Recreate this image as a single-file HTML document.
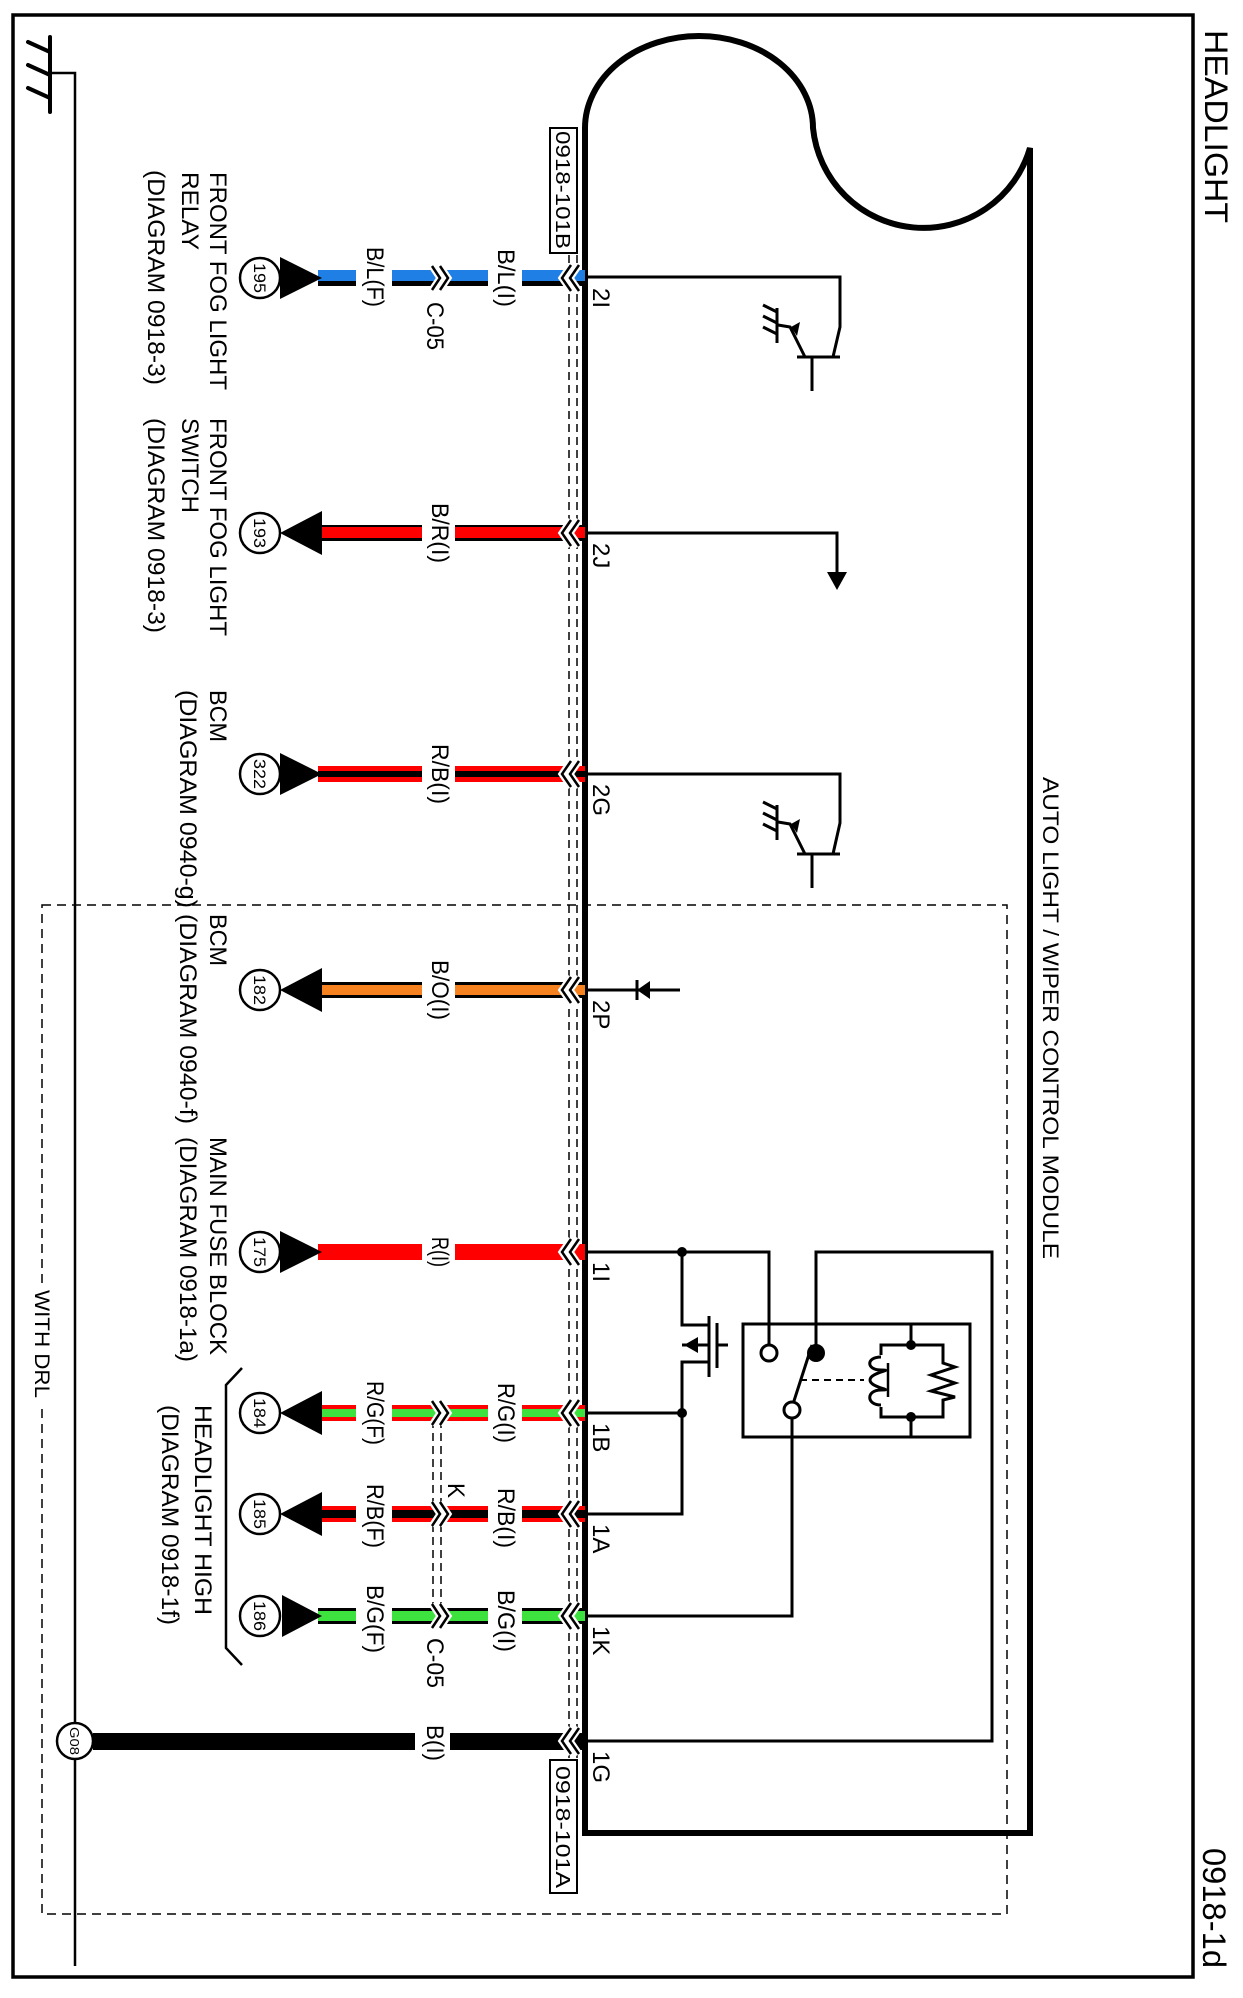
<!DOCTYPE html>
<html><head><meta charset="utf-8"><style>html,body{margin:0;padding:0;background:#fff}svg{display:block}text{font-family:"Liberation Sans",Arial,sans-serif;fill:#000}</style></head>
<body>
<svg width="1243" height="1998" viewBox="0 0 1243 1998" xmlns="http://www.w3.org/2000/svg">
<!-- border -->
<rect x="13" y="15" width="1180" height="1962" fill="none" stroke="#000" stroke-width="3.5"/>
<text transform="translate(1205,30) rotate(90)" font-size="32" textLength="193" lengthAdjust="spacingAndGlyphs">HEADLIGHT</text>
<text transform="translate(1203,1848) rotate(90)" font-size="32" textLength="120" lengthAdjust="spacingAndGlyphs">0918-1d</text>
<!-- ground top-left -->
<g stroke="#000" stroke-width="4" stroke-linecap="round" fill="none">
<line x1="50" y1="37" x2="50" y2="112"/>
<line x1="28" y1="42" x2="50" y2="52"/>
<line x1="28" y1="65" x2="50" y2="75"/>
<line x1="28" y1="88" x2="50" y2="98"/>
</g>
<polyline points="50,73 75,73 75,1966" fill="none" stroke="#000" stroke-width="2.5"/>
<!-- WITH DRL dashed -->
<rect x="42" y="905" width="965" height="1009" fill="none" stroke="#000" stroke-width="1.5" stroke-dasharray="9,6"/>
<rect x="30" y="1285" width="26" height="118" fill="#fff"/>
<text transform="translate(35,1290) rotate(90)" font-size="21" textLength="108" lengthAdjust="spacingAndGlyphs">WITH DRL</text>
<!-- module outline -->
<path d="M585,1833 L585,128 A114,92 0 0 1 813,128 A111,111 0 0 0 1030,148 L1030,1833 Z" fill="none" stroke="#000" stroke-width="6" stroke-linejoin="miter"/>
<text transform="translate(1043,777) rotate(90)" font-size="22" textLength="482" lengthAdjust="spacingAndGlyphs">AUTO LIGHT / WIPER CONTROL MODULE</text>

<!-- connector dashed double lines -->
<g stroke="#000" stroke-width="1.5" stroke-dasharray="8,5">
<line x1="569" y1="255" x2="569" y2="1760"/>
<line x1="577" y1="255" x2="577" y2="1760"/>
<line x1="433" y1="1420" x2="433" y2="1612"/>
<line x1="441" y1="1420" x2="441" y2="1612"/>
</g>
<!-- connector boxes -->
<rect x="550" y="128" width="27" height="125" fill="#fff" stroke="#000" stroke-width="2"/>
<text transform="translate(556,131) rotate(90)" font-size="20" textLength="118" lengthAdjust="spacingAndGlyphs">0918-101B</text>
<rect x="550" y="1760" width="27" height="133" fill="#fff" stroke="#000" stroke-width="2"/>
<text transform="translate(556,1766) rotate(90)" font-size="20" textLength="122" lengthAdjust="spacingAndGlyphs">0918-101A</text>

<!-- wires: base -->
<g>
<!-- 2I B/L -->
<rect x="318" y="270" width="267" height="16" fill="#000"/><rect x="318" y="270" width="267" height="11" fill="#1f7fe5"/>
<!-- 2J B/R -->
<rect x="318" y="525" width="267" height="16" fill="#000"/><rect x="318" y="527" width="267" height="11" fill="#f00"/>
<!-- 2G R/B -->
<rect x="318" y="766" width="267" height="16" fill="#f00"/><rect x="318" y="771" width="267" height="6" fill="#000"/>
<!-- 2P B/O -->
<rect x="318" y="982" width="267" height="16" fill="#000"/><rect x="318" y="985" width="267" height="10" fill="#f5821f"/>
<!-- 1I R -->
<rect x="318" y="1244" width="267" height="16" fill="#f00"/>
<!-- 1B R/G -->
<rect x="318" y="1405" width="267" height="16" fill="#f00"/><rect x="318" y="1409" width="267" height="8" fill="#3ee23e"/>
<!-- 1A R/B -->
<rect x="318" y="1506" width="267" height="16" fill="#f00"/><rect x="318" y="1510" width="267" height="8" fill="#000"/>
<!-- 1K B/G -->
<rect x="318" y="1608" width="267" height="16" fill="#000"/><rect x="318" y="1611" width="267" height="10" fill="#3ee23e"/>
<!-- 1G B -->
<rect x="93" y="1733" width="492" height="17" fill="#000"/>
</g>
<!-- gaps -->
<g fill="#fff">
<rect x="356" y="265" width="36" height="26"/><rect x="488" y="265" width="34" height="26"/>
<rect x="422" y="520" width="33" height="26"/>
<rect x="422" y="761" width="33" height="26"/>
<rect x="422" y="977" width="33" height="26"/>
<rect x="422" y="1239" width="33" height="26"/>
<rect x="356" y="1400" width="36" height="26"/><rect x="488" y="1400" width="34" height="26"/>
<rect x="356" y="1501" width="36" height="26"/><rect x="488" y="1501" width="34" height="26"/>
<rect x="356" y="1603" width="36" height="26"/><rect x="488" y="1603" width="34" height="26"/>
<rect x="415" y="1728" width="35" height="27"/>
</g>
<!-- C-05 chevrons >> -->
<g fill="none" stroke-linejoin="miter">
<g stroke="#fff" stroke-width="7">
<path d="M432,266 L440,278 L432,290 M440,266 L448,278 L440,290"/>
<path d="M432,1401 L440,1413 L432,1425 M440,1401 L448,1413 L440,1425"/>
<path d="M432,1502 L440,1514 L432,1526 M440,1502 L448,1514 L440,1526"/>
<path d="M432,1604 L440,1616 L432,1628 M440,1604 L448,1616 L440,1628"/>
</g>
<g stroke="#000" stroke-width="2.5">
<path d="M432,266 L440,278 L432,290 M440,266 L448,278 L440,290"/>
<path d="M432,1401 L440,1413 L432,1425 M440,1401 L448,1413 L440,1425"/>
<path d="M432,1502 L440,1514 L432,1526 M440,1502 L448,1514 L440,1526"/>
<path d="M432,1604 L440,1616 L432,1628 M440,1604 L448,1616 L440,1628"/>
</g>
</g>
<!-- pin chevrons << -->
<g fill="none">
<g stroke="#fff" stroke-width="7">
<path d="M571,265 L562,278 L571,291 M579,265 L570,278 L579,291"/>
<path d="M571,520 L562,533 L571,546 M579,520 L570,533 L579,546"/>
<path d="M571,761 L562,774 L571,787 M579,761 L570,774 L579,787"/>
<path d="M571,977 L562,990 L571,1003 M579,977 L570,990 L579,1003"/>
<path d="M571,1239 L562,1252 L571,1265 M579,1239 L570,1252 L579,1265"/>
<path d="M571,1400 L562,1413 L571,1426 M579,1400 L570,1413 L579,1426"/>
<path d="M571,1501 L562,1514 L571,1527 M579,1501 L570,1514 L579,1527"/>
<path d="M571,1603 L562,1616 L571,1629 M579,1603 L570,1616 L579,1629"/>
<path d="M571,1728 L562,1741 L571,1754 M579,1728 L570,1741 L579,1754"/>
</g>
<g stroke="#000" stroke-width="2.5">
<path d="M571,265 L562,278 L571,291 M579,265 L570,278 L579,291"/>
<path d="M571,520 L562,533 L571,546 M579,520 L570,533 L579,546"/>
<path d="M571,761 L562,774 L571,787 M579,761 L570,774 L579,787"/>
<path d="M571,977 L562,990 L571,1003 M579,977 L570,990 L579,1003"/>
<path d="M571,1239 L562,1252 L571,1265 M579,1239 L570,1252 L579,1265"/>
<path d="M571,1400 L562,1413 L571,1426 M579,1400 L570,1413 L579,1426"/>
<path d="M571,1501 L562,1514 L571,1527 M579,1501 L570,1514 L579,1527"/>
<path d="M571,1603 L562,1616 L571,1629 M579,1603 L570,1616 L579,1629"/>
<path d="M571,1728 L562,1741 L571,1754 M579,1728 L570,1741 L579,1754"/>
</g>
</g>

<!-- arrows -->
<g fill="#000">
<polygon points="280,257 280,299 322,278"/>
<polygon points="280,533 322,511 322,555"/>
<polygon points="280,753 280,795 322,774"/>
<polygon points="280,990 322,968 322,1012"/>
<polygon points="280,1231 280,1273 322,1252"/>
<polygon points="280,1413 322,1391 322,1435"/>
<polygon points="280,1514 322,1492 322,1536"/>
<polygon points="282,1595 282,1637 322,1616"/>
</g>
<!-- circles -->
<g fill="#fff" stroke="#000" stroke-width="2.5">
<circle cx="260" cy="278" r="20"/><circle cx="260" cy="533" r="20"/><circle cx="260" cy="774" r="20"/><circle cx="260" cy="990" r="20"/>
<circle cx="260" cy="1252" r="20"/><circle cx="260" cy="1413" r="20"/><circle cx="260" cy="1514" r="20"/><circle cx="260" cy="1616" r="20"/>
<circle cx="75" cy="1741" r="18"/>
</g>
<g font-size="17">
<text transform="translate(254,263) rotate(90)" textLength="30" lengthAdjust="spacingAndGlyphs">195</text>
<text transform="translate(254,518) rotate(90)" textLength="30" lengthAdjust="spacingAndGlyphs">193</text>
<text transform="translate(254,759) rotate(90)" textLength="30" lengthAdjust="spacingAndGlyphs">322</text>
<text transform="translate(254,975) rotate(90)" textLength="30" lengthAdjust="spacingAndGlyphs">182</text>
<text transform="translate(254,1237) rotate(90)" textLength="30" lengthAdjust="spacingAndGlyphs">175</text>
<text transform="translate(254,1398) rotate(90)" textLength="30" lengthAdjust="spacingAndGlyphs">184</text>
<text transform="translate(254,1499) rotate(90)" textLength="30" lengthAdjust="spacingAndGlyphs">185</text>
<text transform="translate(254,1601) rotate(90)" textLength="30" lengthAdjust="spacingAndGlyphs">186</text>
<text transform="translate(70,1727) rotate(90)" font-size="13" textLength="28" lengthAdjust="spacingAndGlyphs">G08</text>
</g>

<!-- wire labels -->
<g font-size="24">
<text transform="translate(367,247) rotate(90)" textLength="60" lengthAdjust="spacingAndGlyphs">B/L(F)</text>
<text transform="translate(427,302) rotate(90)" textLength="48" lengthAdjust="spacingAndGlyphs">C-05</text>
<text transform="translate(498,249) rotate(90)" textLength="58" lengthAdjust="spacingAndGlyphs">B/L(I)</text>
<text transform="translate(432,503) rotate(90)" textLength="60" lengthAdjust="spacingAndGlyphs">B/R(I)</text>
<text transform="translate(432,744) rotate(90)" textLength="60" lengthAdjust="spacingAndGlyphs">R/B(I)</text>
<text transform="translate(432,960) rotate(90)" textLength="60" lengthAdjust="spacingAndGlyphs">B/O(I)</text>
<text transform="translate(432,1237) rotate(90)" textLength="30" lengthAdjust="spacingAndGlyphs">R(I)</text>
<text transform="translate(367,1381) rotate(90)" textLength="64" lengthAdjust="spacingAndGlyphs">R/G(F)</text>
<text transform="translate(498,1383) rotate(90)" textLength="60" lengthAdjust="spacingAndGlyphs">R/G(I)</text>
<text transform="translate(448,1483) rotate(90)" textLength="15" lengthAdjust="spacingAndGlyphs">K</text>
<text transform="translate(367,1484) rotate(90)" textLength="64" lengthAdjust="spacingAndGlyphs">R/B(F)</text>
<text transform="translate(498,1488) rotate(90)" textLength="60" lengthAdjust="spacingAndGlyphs">R/B(I)</text>
<text transform="translate(367,1585) rotate(90)" textLength="68" lengthAdjust="spacingAndGlyphs">B/G(F)</text>
<text transform="translate(498,1590) rotate(90)" textLength="62" lengthAdjust="spacingAndGlyphs">B/G(I)</text>
<text transform="translate(427,1638) rotate(90)" textLength="50" lengthAdjust="spacingAndGlyphs">C-05</text>
<text transform="translate(427,1725) rotate(90)" textLength="36" lengthAdjust="spacingAndGlyphs">B(I)</text>
</g>
<!-- pin labels -->
<g font-size="24">
<text transform="translate(593,288) rotate(90)">2I</text>
<text transform="translate(593,543) rotate(90)">2J</text>
<text transform="translate(593,784) rotate(90)">2G</text>
<text transform="translate(593,1000) rotate(90)">2P</text>
<text transform="translate(593,1262) rotate(90)">1I</text>
<text transform="translate(593,1423) rotate(90)">1B</text>
<text transform="translate(593,1524) rotate(90)">1A</text>
<text transform="translate(593,1626) rotate(90)">1K</text>
<text transform="translate(593,1751) rotate(90)">1G</text>
</g>
<!-- component labels -->
<g font-size="24">
<text transform="translate(210,172) rotate(90)" textLength="218" lengthAdjust="spacingAndGlyphs">FRONT FOG LIGHT</text>
<text transform="translate(182,172) rotate(90)" textLength="78" lengthAdjust="spacingAndGlyphs">RELAY</text>
<text transform="translate(148,170) rotate(90)" textLength="215" lengthAdjust="spacingAndGlyphs">(DIAGRAM 0918-3)</text>
<text transform="translate(210,418) rotate(90)" textLength="218" lengthAdjust="spacingAndGlyphs">FRONT FOG LIGHT</text>
<text transform="translate(182,418) rotate(90)" textLength="95" lengthAdjust="spacingAndGlyphs">SWITCH</text>
<text transform="translate(148,418) rotate(90)" textLength="215" lengthAdjust="spacingAndGlyphs">(DIAGRAM 0918-3)</text>
<text transform="translate(210,690) rotate(90)" textLength="52" lengthAdjust="spacingAndGlyphs">BCM</text>
<text transform="translate(180,690) rotate(90)" textLength="218" lengthAdjust="spacingAndGlyphs">(DIAGRAM 0940-g)</text>
<text transform="translate(210,914) rotate(90)" textLength="52" lengthAdjust="spacingAndGlyphs">BCM</text>
<text transform="translate(180,914) rotate(90)" textLength="210" lengthAdjust="spacingAndGlyphs">(DIAGRAM 0940-f)</text>
<text transform="translate(210,1137) rotate(90)" textLength="218" lengthAdjust="spacingAndGlyphs">MAIN FUSE BLOCK</text>
<text transform="translate(180,1137) rotate(90)" textLength="225" lengthAdjust="spacingAndGlyphs">(DIAGRAM 0918-1a)</text>
<text transform="translate(195,1405) rotate(90)" textLength="210" lengthAdjust="spacingAndGlyphs">HEADLIGHT HIGH</text>
<text transform="translate(162,1405) rotate(90)" textLength="220" lengthAdjust="spacingAndGlyphs">(DIAGRAM 0918-1f)</text>
</g>
<path d="M242,1368 L226,1385 L226,1648 L242,1665" fill="none" stroke="#000" stroke-width="2.5"/>

<!-- internal circuits -->
<g fill="none" stroke="#000" stroke-width="3">
<!-- 2I transistor -->
<polyline points="585,277 840,277 840,327 833,357"/>
<line x1="797" y1="357" x2="840" y2="357"/>
<line x1="812" y1="357" x2="812" y2="391"/>
<polyline points="805,357 790,327 778,325"/>
<line x1="777" y1="308" x2="777" y2="343"/>
<line x1="763" y1="305" x2="777" y2="312"/><line x1="763" y1="316" x2="777" y2="323"/><line x1="763" y1="327" x2="777" y2="334"/>
<!-- 2G transistor -->
<polyline points="585,774 840,774 840,823 833,854"/>
<line x1="797" y1="854" x2="840" y2="854"/>
<line x1="812" y1="854" x2="812" y2="888"/>
<polyline points="805,854 790,824 778,822"/>
<line x1="777" y1="805" x2="777" y2="840"/>
<line x1="763" y1="802" x2="777" y2="809"/><line x1="763" y1="813" x2="777" y2="820"/><line x1="763" y1="824" x2="777" y2="831"/>
<!-- 2J -->
<polyline points="585,533 837,533 837,580"/>
<!-- 2P -->
<line x1="585" y1="990" x2="680" y2="990"/>
<line x1="637" y1="980" x2="637" y2="1000"/>
<!-- relay area -->
<polyline points="585,1252 769,1252 769,1345"/>
<polyline points="816,1345 816,1252 992,1252 992,1741 585,1741"/>
<polyline points="585,1413 682,1413"/>
<polyline points="585,1514 682,1514 682,1413"/>
<polyline points="682,1252 682,1325 709,1325"/>
<polyline points="682,1413 682,1362 709,1362"/>
<line x1="682" y1="1345" x2="709" y2="1345"/>
<line x1="709" y1="1316" x2="709" y2="1377"/>
<line x1="717" y1="1323" x2="717" y2="1368"/>
<line x1="717" y1="1345" x2="728" y2="1345"/>
<rect x="743" y="1324" width="227" height="113"/>
<line x1="812" y1="1345" x2="793" y2="1404"/>
<polyline points="792,1418 792,1616 585,1616"/>
<rect x="881" y="1345" width="62" height="72"/>
<line x1="911" y1="1324" x2="911" y2="1345"/><line x1="911" y1="1417" x2="911" y2="1437"/>
</g>
<line x1="800" y1="1380" x2="864" y2="1380" stroke="#000" stroke-width="2" stroke-dasharray="7,5"/>
<!-- coil and resistor -->
<rect x="866" y="1355" width="30" height="52" fill="#fff"/>
<path d="M881,1357 C866,1357 866,1370 881,1370 C896,1370 870,1372 870,1380 C870,1388 896,1390 881,1390 C866,1390 866,1405 881,1405" fill="none" stroke="#000" stroke-width="3"/>
<line x1="888" y1="1363" x2="888" y2="1397" stroke="#000" stroke-width="2.5"/>
<rect x="935" y="1355" width="16" height="52" fill="#fff"/>
<polyline points="943,1355 943,1363 955,1367 931,1375 955,1383 931,1391 955,1397 943,1400 943,1407" fill="none" stroke="#000" stroke-width="3"/>
<g fill="#000">
<polygon points="837,590 827,572 847,572"/>
<polygon points="637,990 650,981 650,999"/>
<polygon points="791,327 800,322 797,336"/>
<polygon points="791,824 800,819 797,833"/>
<polygon points="684,1345 698,1337 698,1353"/>
<circle cx="682" cy="1252" r="5"/><circle cx="682" cy="1413" r="5"/>
<circle cx="816" cy="1353" r="9"/>
<circle cx="911" cy="1345" r="5"/><circle cx="911" cy="1417" r="5"/>
</g>
<g fill="#fff" stroke="#000" stroke-width="3">
<circle cx="769" cy="1353" r="8"/>
<circle cx="792" cy="1410" r="8"/>
</g>
</svg>
</body></html>
